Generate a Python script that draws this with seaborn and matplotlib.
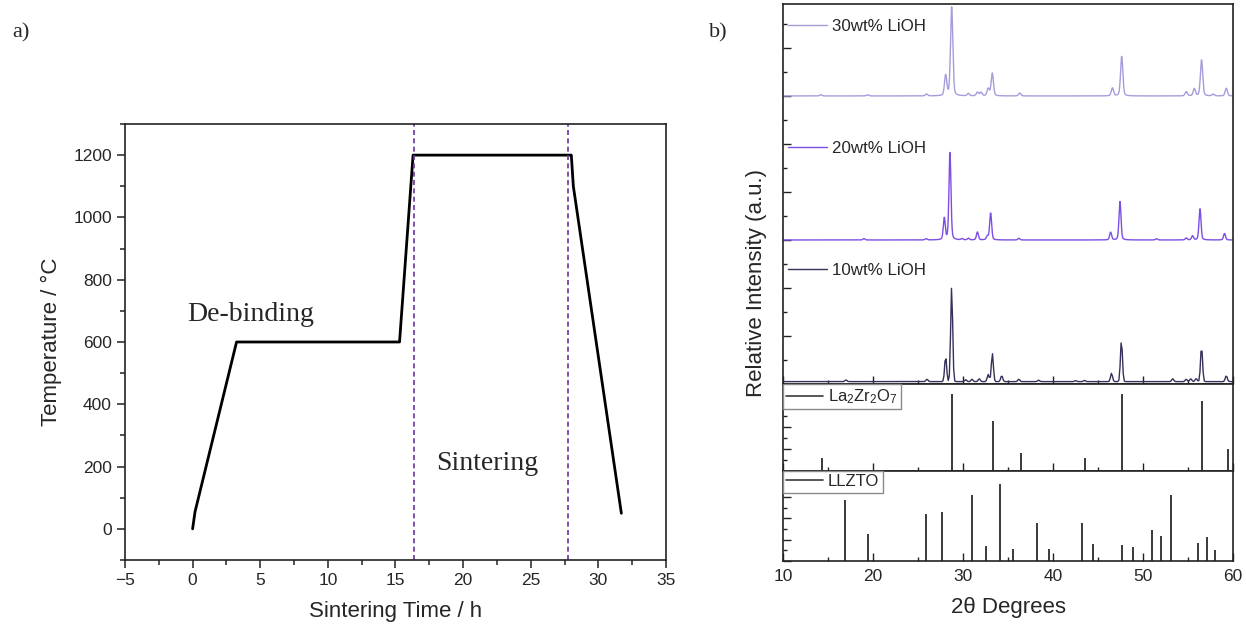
import numpy as np
import pandas as pd
import matplotlib
matplotlib.use("Agg")
import matplotlib.pyplot as plt
from matplotlib.lines import Line2D
from matplotlib.legend import Legend
from matplotlib.ticker import MultipleLocator
import seaborn as sns

# ---------------- sintering schedule ----------------
time_h = [0.0, 0.18, 3.25, 15.3, 16.3, 28.0, 28.15, 31.7]
temp_c = [0, 55, 600, 600, 1200, 1200, 1100, 50]
stage_bounds_h = [16.4, 27.75]

# ---------------- XRD patterns (peak centre 2θ, peak height a.u.) ----------------
lioh30_pos = [14.2, 19.4, 25.95, 28.07, 28.74, 30.6, 31.6, 32.0, 32.8, 33.25, 36.3,
              46.6, 47.63, 54.8, 55.7, 56.5, 57.8, 59.25]
lioh30_int = [0.05, 0.05, 0.08, 0.85, 3.7, 0.1, 0.15, 0.15, 0.3, 0.95, 0.12,
              0.33, 1.65, 0.18, 0.3, 1.5, 0.07, 0.32]

lioh20_pos = [19.0, 25.9, 27.92, 28.55, 29.9, 30.6, 31.6, 32.7, 33.07, 36.2,
              46.4, 47.44, 51.5, 54.8, 55.5, 56.33, 59.05]
lioh20_int = [0.06, 0.05, 0.9, 3.65, 0.05, 0.07, 0.33, 0.15, 1.12, 0.07,
              0.32, 1.6, 0.05, 0.08, 0.17, 1.3, 0.27]

lioh10_pos = [17.0, 26.0, 28.07, 28.74, 30.3, 31.0, 31.8, 32.8, 33.26, 34.3, 36.2,
              38.4, 42.5, 43.5, 46.5, 47.6, 53.3, 54.8, 55.3, 55.9, 56.5, 59.25]
lioh10_int = [0.07, 0.1, 1.05, 3.95, 0.08, 0.1, 0.12, 0.3, 1.18, 0.25, 0.1,
              0.06, 0.04, 0.05, 0.35, 1.72, 0.12, 0.1, 0.12, 0.13, 1.47, 0.25]

lioh_offsets = {"10wt% LiOH": 0.1, "20wt% LiOH": 6.0, "30wt% LiOH": 12.0}

# ---------------- reference patterns (relative intensity, %) ----------------
lzo_pos = [14.37, 28.78, 33.37, 36.4, 43.6, 47.67, 56.56, 59.4]
lzo_int = [17, 100, 65, 23, 17, 100, 91, 29]

llzto_pos = [16.9, 19.5, 25.9, 27.7, 31.0, 32.56, 34.07, 35.5, 38.2, 39.5, 43.2,
             44.4, 47.7, 48.9, 51.0, 52.0, 53.07, 56.07, 57.07, 58.0]
llzto_int = [79, 35, 61, 64, 86, 19, 100, 16, 49, 15, 50,
             22, 21, 18, 40, 32, 86, 24, 31, 14]

colors = {"30wt% LiOH": "#a49ddc", "20wt% LiOH": "#7c4ee4", "10wt% LiOH": "#34315a"}
stick_color = "#3a3a3a"


def pattern(pos, inten, step, fwhm, eta):
    """Pseudo-Voigt peaks sampled on a regular 2θ grid."""
    grid = np.arange(10.0, 60.0 + step / 2, step)
    sigma = fwhm / 2.3548
    gam = fwhm / 2
    y = np.zeros_like(grid)
    for p, h in zip(pos, inten):
        gauss = np.exp(-0.5 * ((grid - p) / sigma) ** 2)
        lor = 1.0 / (1.0 + ((grid - p) / gam) ** 2)
        y += h * ((1 - eta) * gauss + eta * lor)
    return grid, y


sns.set_theme(style="ticks")
plt.rcParams["font.family"] = ["Liberation Sans", "DejaVu Sans"]
plt.rcParams["mathtext.default"] = "regular"

fig = plt.figure(figsize=(12.46, 6.29), dpi=100)

# ================= a) temperature profile =================
axa = fig.add_axes([0.1003, 0.1097, 0.4342, 0.6932])
sched = pd.DataFrame({"t": time_h, "T": temp_c})
sns.lineplot(data=sched, x="t", y="T", ax=axa, color="black", lw=2.0,
             sort=False, estimator=None)
for xb in stage_bounds_h:
    axa.axvline(xb, color="#7030a0", lw=1.2, ls=(0, (3.0, 2.0)))
axa.set_xlim(-5, 35)
axa.set_ylim(-100, 1300)
axa.xaxis.set_major_locator(MultipleLocator(5))
axa.xaxis.set_minor_locator(MultipleLocator(2.5))
axa.yaxis.set_major_locator(MultipleLocator(200))
axa.yaxis.set_minor_locator(MultipleLocator(100))
axa.set_yticks(np.arange(0, 1201, 200))
axa.tick_params(which="major", direction="out", length=6, width=1.1,
                labelsize=12.5, color="#222", top=False, right=False)
axa.tick_params(which="minor", direction="out", length=3.5, width=1.1,
                color="#222", top=False, right=False)
for s in axa.spines.values():
    s.set_linewidth(1.2)
    s.set_color("#222")
axa.set_xlabel("Sintering Time / h", fontsize=16, labelpad=9)
axa.set_ylabel("Temperature / \u00b0C", fontsize=16, labelpad=8)
axa.text(4.3, 688, "De-binding", family="Liberation Serif", fontsize=20,
         ha="center", va="center")
axa.text(21.8, 209, "Sintering", family="Liberation Serif", fontsize=20,
         ha="center", va="center")
fig.text(0.010, 0.947, "a)", family="Liberation Serif", fontsize=16, va="center")
fig.text(0.569, 0.947, "b)", family="Liberation Serif", fontsize=16, va="center")

# ================= b) XRD =================
left_b, width_b = 0.6284, 0.3612
ax_top = fig.add_axes([left_b, 0.3895, width_b, 0.6041])
ax_mid = fig.add_axes([left_b, 0.2512, width_b, 0.1383], sharex=ax_top)
ax_bot = fig.add_axes([left_b, 0.1081, width_b, 0.1431], sharex=ax_top)

series = [
    ("30wt% LiOH", lioh30_pos, lioh30_int, 0.02, 0.30, 0.3),
    ("20wt% LiOH", lioh20_pos, lioh20_int, 0.02, 0.26, 0.3),
    ("10wt% LiOH", lioh10_pos, lioh10_int, 0.12, 0.26, 0.0),
]
frames = []
for name, pos, inten, step, fwhm, eta in series:
    g, y = pattern(pos, inten, step, fwhm, eta)
    frames.append(pd.DataFrame({"two_theta": g,
                                "intensity": y + lioh_offsets[name],
                                "sample": name}))
xrd = pd.concat(frames, ignore_index=True)
sns.lineplot(data=xrd, x="two_theta", y="intensity", hue="sample",
             palette=colors, ax=ax_top, lw=1.0, legend=False,
             estimator=None, sort=False)
ax_top.set_ylim(0, 15.83)
ax_top.yaxis.set_major_locator(MultipleLocator(2))
ax_top.yaxis.set_minor_locator(MultipleLocator(1))

legend_y = {"30wt% LiOH": 0.942, "20wt% LiOH": 0.621, "10wt% LiOH": 0.300}
for name in ["30wt% LiOH", "20wt% LiOH", "10wt% LiOH"]:
    h = Line2D([], [], color=colors[name], lw=1.0)
    leg = Legend(ax_top, [h], [name], loc="center left",
                 bbox_to_anchor=(0.012, legend_y[name]), frameon=False,
                 fontsize=12.2, borderpad=0, borderaxespad=0,
                 handlelength=2.3, handletextpad=0.3)
    ax_top.add_artist(leg)

ax_mid.vlines(lzo_pos, 0, lzo_int, color=stick_color, lw=1.4)
ax_mid.set_ylim(0, 113.4)
ax_mid.yaxis.set_major_locator(MultipleLocator(28.6))
ax_mid.yaxis.set_minor_locator(MultipleLocator(14.3))

ax_bot.vlines(llzto_pos, 0, llzto_int, color=stick_color, lw=1.4)
ax_bot.set_ylim(0, 117)
ax_bot.yaxis.set_major_locator(MultipleLocator(27.8))
ax_bot.yaxis.set_minor_locator(MultipleLocator(13.9))

for ax, lab in [(ax_mid, r"La$_2$Zr$_2$O$_7$"), (ax_bot, "LLZTO")]:
    h = Line2D([], [], color=stick_color, lw=1.2)
    leg = ax.legend([h], [lab], loc="upper left", bbox_to_anchor=(0, 1),
                    borderaxespad=0, fontsize=12, fancybox=False,
                    framealpha=1, edgecolor="#8a8a8a", borderpad=0.2,
                    handlelength=2.2, handletextpad=0.3)
    leg.get_frame().set_linewidth(1.0)
    leg.set_zorder(5)

for ax in (ax_top, ax_mid, ax_bot):
    ax.set_xlim(10, 60)
    ax.xaxis.set_major_locator(MultipleLocator(10))
    ax.xaxis.set_minor_locator(MultipleLocator(5))
    ax.tick_params(which="major", direction="in", length=6, width=1.0,
                   color="#222", labelleft=False, labelbottom=False,
                   top=False, right=False)
    ax.tick_params(which="minor", direction="in", length=3.2, width=1.0,
                   color="#222", top=False, right=False)
    ax.set_xlabel("")
    ax.set_ylabel("")
    for s in ax.spines.values():
        s.set_linewidth(1.2)
        s.set_color("#222")

ax_bot.tick_params(labelbottom=True, labelsize=12.5, pad=6)
ax_bot.set_xlabel("2\u03b8 Degrees", fontsize=16, labelpad=9)
fig.text(0.6075, 0.55, "Relative Intensity (a.u.)", rotation=90,
         fontsize=16, ha="center", va="center")

fig.savefig("out.png", dpi=100)
